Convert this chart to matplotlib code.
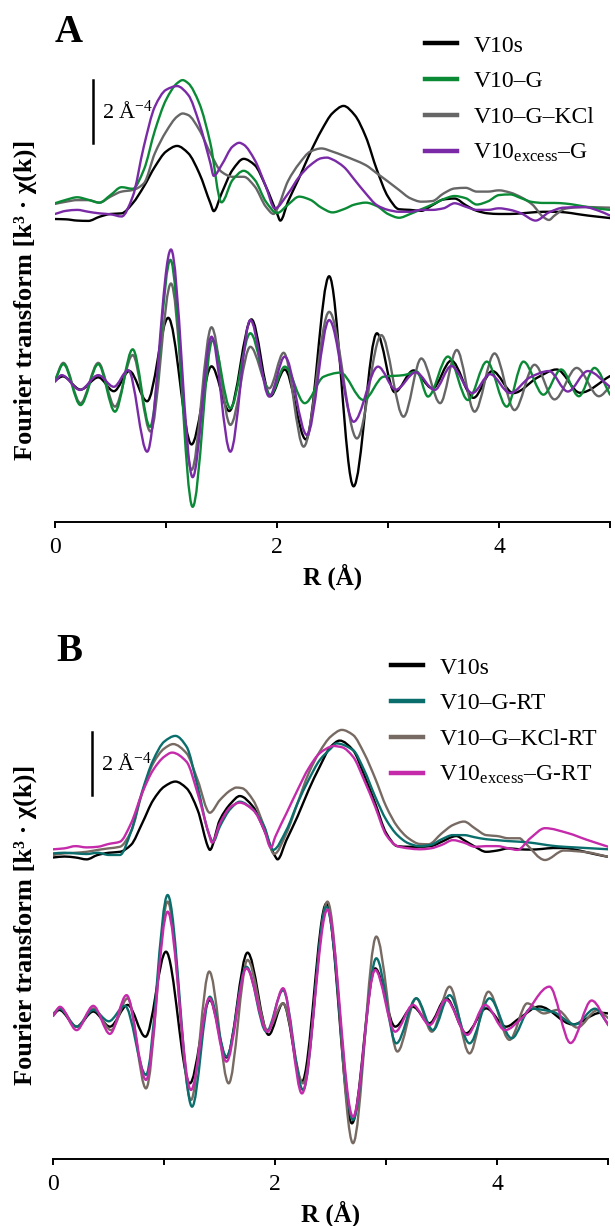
import numpy as np
import matplotlib
matplotlib.use("Agg")
import matplotlib.pyplot as plt
from matplotlib.path import Path
from matplotlib.patches import PathPatch
from matplotlib.lines import Line2D

plt.rcParams['font.family'] = ['Liberation Serif', 'DejaVu Serif']
plt.rcParams['mathtext.fontset'] = 'custom'
plt.rcParams['mathtext.rm'] = 'Liberation Serif'
plt.rcParams['mathtext.it'] = 'Liberation Serif:italic'
plt.rcParams['mathtext.bf'] = 'Liberation Serif:bold'

# ---------------- Panel A : magnitude (A^-4) ----------------
a_mag_black_r = [0, 0.1, 0.2, 0.3, 0.4, 0.5, 0.6, 0.7, 0.8, 0.9, 1.0, 1.1, 1.2, 1.3, 1.4, 1.43, 1.5, 1.6, 1.7,
                 1.8, 1.9, 2.0, 2.03, 2.1, 2.2, 2.3, 2.4, 2.5, 2.6, 2.7, 2.8, 2.9, 3.0, 3.1, 3.2, 3.3, 3.4, 3.5,
                 3.6, 3.7, 3.8, 3.9, 4.0, 4.1, 4.2, 4.3, 4.4, 4.5, 4.6, 4.7, 4.8, 4.9, 5.0]
a_mag_black = [0.19, 0.18, 0.14, 0.13, 0.26, 0.35, 0.37, 0.69, 1.22, 1.85, 2.33, 2.51, 2.28, 1.64, 0.69, 0.44,
               1.0, 1.75, 2.10, 1.90, 1.22, 0.37, 0.14, 0.75, 1.5, 2.3, 3.0, 3.55, 3.78, 3.49, 2.80, 1.75, 0.90,
               0.5, 0.48, 0.45, 0.63, 0.81, 0.84, 0.63, 0.45, 0.37, 0.35, 0.35, 0.37, 0.4, 0.42, 0.42, 0.4,
               0.35, 0.3, 0.26, 0.22]

a_mag_green_r = [0, 0.1, 0.2, 0.3, 0.4, 0.5, 0.6, 0.7, 0.8, 0.9, 1.0, 1.1, 1.15, 1.2, 1.3, 1.4, 1.5, 1.6, 1.7,
                 1.8, 1.9, 2.0, 2.1, 2.2, 2.3, 2.4, 2.5, 2.6, 2.7, 2.8, 2.9, 3.0, 3.1, 3.2, 3.3, 3.4, 3.5, 3.6,
                 3.7, 3.8, 3.9, 4.0, 4.1, 4.2, 4.3, 4.4, 4.5, 4.6, 4.7, 4.8, 4.9, 5.0]
a_mag_green = [0.69, 0.8, 0.88, 0.8, 0.71, 0.95, 1.2, 1.15, 1.75, 3.0, 3.97, 4.5, 4.6, 4.5, 3.86, 2.59, 0.72,
               1.43, 1.72, 1.43, 0.74, 0.38, 0.65, 0.9, 0.8, 0.55, 0.4, 0.5, 0.65, 0.71, 0.6, 0.35, 0.23, 0.35,
               0.5, 0.65, 0.82, 0.92, 0.85, 0.65, 0.75, 0.95, 0.97, 0.85, 0.73, 0.7, 0.7, 0.68, 0.63, 0.57,
               0.52, 0.48]

a_mag_gray_r = [0, 0.1, 0.2, 0.3, 0.4, 0.5, 0.6, 0.7, 0.8, 0.9, 1.0, 1.1, 1.15, 1.2, 1.3, 1.4, 1.5, 1.6, 1.7,
                1.8, 1.9, 1.97, 2.0, 2.1, 2.2, 2.3, 2.4, 2.5, 2.6, 2.7, 2.8, 2.9, 3.0, 3.1, 3.2, 3.3, 3.4, 3.5,
                3.6, 3.7, 3.8, 3.9, 4.0, 4.1, 4.2, 4.3, 4.4, 4.45, 4.5, 4.6, 4.7, 4.8, 4.9, 5.0]
a_mag_gray = [0.67, 0.74, 0.79, 0.79, 0.71, 0.9, 1.06, 1.11, 1.32, 2.28, 2.96, 3.44, 3.54, 3.49, 3.02, 2.28,
              1.69, 1.53, 1.53, 1.22, 0.58, 0.35, 0.5, 1.4, 1.95, 2.33, 2.43, 2.33, 2.2, 2.06, 1.9, 1.64, 1.38,
              1.11, 0.85, 0.74, 0.76, 1.0, 1.16, 1.18, 1.06, 1.06, 1.1, 1.03, 0.88, 0.65, 0.25, 0.16, 0.3,
              0.52, 0.56, 0.57, 0.56, 0.55]

a_mag_purple_r = [0, 0.1, 0.2, 0.3, 0.4, 0.5, 0.6, 0.7, 0.8, 0.9, 1.0, 1.1, 1.2, 1.3, 1.4, 1.43, 1.5, 1.6,
                  1.66, 1.7, 1.8, 1.9, 1.98, 2.1, 2.2, 2.3, 2.4, 2.45, 2.5, 2.6, 2.7, 2.8, 2.9, 3.0, 3.1, 3.2,
                  3.3, 3.4, 3.5, 3.6, 3.7, 3.8, 3.9, 4.0, 4.1, 4.2, 4.33, 4.45, 4.58, 4.77, 4.9, 5.0]
a_mag_purple = [0.35, 0.45, 0.48, 0.42, 0.37, 0.34, 0.27, 0.9, 2.49, 3.76, 4.29, 4.41, 4.13, 3.23, 1.96, 1.56,
                1.9, 2.49, 2.61, 2.55, 2.06, 1.22, 0.53, 1.0, 1.53, 1.9, 2.12, 2.14, 2.08, 1.85, 1.43, 1.0, 0.63,
                0.48, 0.42, 0.42, 0.48, 0.48, 0.53, 0.69, 0.58, 0.48, 0.48, 0.53, 0.48, 0.37, 0.14, 0.4, 0.55,
                0.57, 0.45, 0.3]

# ---------------- Panel A : imaginary part ----------------
a_im_black_r = [0, 0.07, 0.23, 0.39, 0.53, 0.67, 0.83, 1.02, 1.23, 1.41, 1.57, 1.77, 1.94, 2.07, 2.26, 2.47,
                2.69, 2.90, 3.06, 3.23, 3.40, 3.57, 3.77, 3.94, 4.13, 4.35, 4.52, 4.73, 5.0]
a_im_black = [0, 0.13, -0.29, 0.1, -0.34, 0.3, -0.66, 1.99, -2.03, 0.45, -0.97, 1.94, -0.5, 0.35, -1.87, 3.31,
              -3.36, 1.5, -0.37, 0.32, -0.25, 0.63, -0.55, 0.3, -0.4, 0.1, 0.35, -0.39, 0.14]

a_im_green_r = [0, 0.075, 0.23, 0.39, 0.54, 0.70, 0.856, 1.04, 1.24, 1.42, 1.58, 1.76, 1.94, 2.07, 2.25, 2.42,
                2.57, 2.78, 2.96, 3.14, 3.26, 3.36, 3.54, 3.72, 3.89, 4.07, 4.22, 4.40, 4.56, 4.72, 4.86, 5.0]
a_im_green = [0, 0.52, -0.78, 0.52, -0.99, 0.99, -1.47, 3.83, -4.01, 1.29, -0.88, 1.5, -0.46, 0.44, -0.72,
              0.12, 0.25, -0.62, 0.12, 0.17, 0.28, -0.51, 0.76, -0.62, 0.6, -0.83, 0.6, -0.45, 0.35, -0.5,
              0.4, -0.45]

a_im_gray_r = [0, 0.075, 0.23, 0.39, 0.54, 0.70, 0.86, 1.045, 1.23, 1.41, 1.58, 1.76, 1.93, 2.06, 2.24, 2.47,
               2.72, 2.94, 3.14, 3.30, 3.47, 3.62, 3.78, 3.96, 4.14, 4.32, 4.5, 4.7, 4.9, 5.0]
a_im_gray = [0, 0.56, -0.72, 0.56, -0.83, 0.81, -1.62, 3.08, -2.84, 1.69, -1.41, 1.07, -0.25, 0.88, -2.10,
             2.18, -1.84, 1.44, -1.15, 0.70, -0.72, 0.97, -0.99, 0.86, -0.94, 0.5, -0.6, 0.4, -0.5, -0.2]

a_im_purple_r = [0, 0.06, 0.225, 0.39, 0.53, 0.66, 0.83, 1.045, 1.24, 1.41, 1.58, 1.76, 1.93, 2.07, 2.27,
                 2.47, 2.69, 2.91, 3.07, 3.25, 3.42, 3.57, 3.76, 3.92, 4.1, 4.28, 4.45, 4.62, 4.8, 5.0]
a_im_purple = [-0.04, 0.17, -0.3, 0.17, -0.2, 0.33, -2.26, 4.16, -3.07, 1.39, -2.26, 1.92, -0.51, 0.76,
               -1.73, 1.92, -1.31, 0.44, -0.29, 0.26, -0.3, 0.46, -0.4, 0.2, -0.4, 0.1, 0.3, -0.35, 0.3, -0.2]

# ---------------- Panel B : magnitude ----------------
b_mag_black_r = [0, 0.1, 0.2, 0.3, 0.4, 0.5, 0.6, 0.7, 0.8, 0.9, 1.0, 1.1, 1.2, 1.3, 1.4, 1.41, 1.5, 1.6, 1.68,
                 1.8, 1.9, 2.0, 2.02, 2.1, 2.2, 2.3, 2.4, 2.5, 2.58, 2.7, 2.8, 2.9, 3.0, 3.1, 3.2, 3.3, 3.4,
                 3.5, 3.6, 3.63, 3.7, 3.8, 3.9, 4.0, 4.1, 4.2, 4.3, 4.4, 4.5, 4.6, 4.7, 4.8, 4.9, 5.0]
b_mag_black = [0.08, 0.11, 0.08, 0.02, 0.16, 0.23, 0.26, 0.48, 1.16, 1.9, 2.33, 2.49, 2.28, 1.59, 0.37, 0.32,
               1.27, 1.8, 2.03, 1.69, 0.95, 0.11, 0.02, 0.63, 1.38, 2.22, 2.96, 3.6, 3.79, 3.49, 2.7, 1.8,
               0.85, 0.44, 0.42, 0.42, 0.44, 0.58, 0.74, 0.76, 0.63, 0.42, 0.26, 0.3, 0.37, 0.34, 0.33, 0.35,
               0.38, 0.38, 0.33, 0.25, 0.17, 0.1]

b_mag_teal_r = [0, 0.1, 0.2, 0.3, 0.4, 0.5, 0.6, 0.7, 0.8, 0.9, 1.0, 1.1, 1.2, 1.3, 1.4, 1.44, 1.5, 1.6, 1.68,
                1.8, 1.9, 1.98, 2.1, 2.2, 2.3, 2.4, 2.5, 2.55, 2.7, 2.8, 2.9, 3.0, 3.1, 3.2, 3.3, 3.4, 3.5,
                3.6, 3.7, 3.8, 3.9, 4.0, 4.1, 4.2, 4.3, 4.4, 4.5, 4.6, 4.7, 4.8, 4.9, 5.0]
b_mag_teal = [0.21, 0.23, 0.21, 0.19, 0.23, 0.16, 0.16, 0.9, 2.17, 3.17, 3.76, 3.94, 3.6, 2.33, 0.85, 0.58,
              1.06, 1.64, 1.85, 1.59, 1.06, 0.32, 0.95, 1.8, 2.54, 3.17, 3.54, 3.7, 3.49, 2.86, 2.01, 1.27,
              0.79, 0.53, 0.44, 0.48, 0.66, 0.79, 0.79, 0.72, 0.66, 0.63, 0.6, 0.58, 0.55, 0.5, 0.45, 0.42,
              0.4, 0.38, 0.36, 0.34]

b_mag_brown_r = [0, 0.1, 0.2, 0.3, 0.4, 0.5, 0.6, 0.7, 0.8, 0.9, 1.0, 1.08, 1.2, 1.3, 1.41, 1.5, 1.6, 1.65,
                 1.7, 1.8, 1.9, 1.99, 2.1, 2.2, 2.3, 2.4, 2.5, 2.6, 2.7, 2.8, 2.9, 3.0, 3.1, 3.2, 3.3, 3.38,
                 3.5, 3.6, 3.7, 3.8, 3.9, 4.0, 4.1, 4.2, 4.25, 4.43, 4.6, 4.8, 5.0]
b_mag_brown = [0.16, 0.21, 0.23, 0.26, 0.32, 0.37, 0.42, 0.9, 2.12, 3.07, 3.54, 3.68, 3.39, 2.54, 1.5, 1.9,
               2.22, 2.3, 2.28, 1.9, 1.06, 0.19, 0.85, 1.8, 2.75, 3.44, 3.92, 4.13, 3.97, 3.39, 2.59, 1.69,
               1.06, 0.69, 0.51, 0.5, 0.85, 1.11, 1.22, 1.0, 0.79, 0.76, 0.69, 0.69, 0.54, 0.0, 0.3, 0.25, 0.1]

b_mag_magenta_r = [0, 0.1, 0.2, 0.3, 0.4, 0.5, 0.6, 0.7, 0.8, 0.9, 1.0, 1.07, 1.2, 1.3, 1.4, 1.43, 1.5, 1.6,
                   1.68, 1.8, 1.9, 1.96, 2.0, 2.1, 2.2, 2.3, 2.4, 2.5, 2.52, 2.6, 2.7, 2.8, 2.9, 3.0, 3.1, 3.2,
                   3.3, 3.4, 3.5, 3.6, 3.7, 3.8, 3.9, 4.0, 4.1, 4.18, 4.3, 4.43, 4.64, 4.8, 5.0]
b_mag_magenta = [0.34, 0.37, 0.44, 0.4, 0.42, 0.51, 0.58, 1.16, 2.12, 2.86, 3.28, 3.41, 3.12, 2.12, 0.85, 0.55,
                 1.16, 1.69, 1.82, 1.59, 0.95, 0.39, 0.74, 1.48, 2.22, 2.91, 3.39, 3.6, 3.62, 3.58, 3.28, 2.54,
                 1.69, 0.79, 0.44, 0.37, 0.34, 0.37, 0.48, 0.63, 0.55, 0.42, 0.44, 0.44, 0.37, 0.32, 0.7, 1.01,
                 0.85, 0.65, 0.42]

# ---------------- Panel B : imaginary part ----------------
b_im_black_r = [0, 0.054, 0.21, 0.36, 0.51, 0.67, 0.83, 1.015, 1.23, 1.41, 1.56, 1.75, 1.94, 2.07, 2.24,
                2.46, 2.69, 2.9, 3.08, 3.24, 3.39, 3.54, 3.72, 3.90, 4.08, 4.2, 4.38, 4.68, 4.93, 5.0]
b_im_black = [0, 0.16, -0.37, 0.11, -0.37, 0.32, -0.69, 2.01, -2.17, 0.48, -1.35, 1.98, -0.63, 0.37, -2.12,
              3.54, -3.44, 1.48, -0.37, 0.26, -0.26, 0.53, -0.58, 0.21, -0.37, -0.1, 0.27, -0.3, 0.07, 0.05]

b_im_teal_r = [0, 0.054, 0.21, 0.36, 0.5, 0.645, 0.835, 1.03, 1.25, 1.41, 1.56, 1.74, 1.92, 2.07, 2.25, 2.46,
               2.70, 2.91, 3.09, 3.27, 3.42, 3.57, 3.75, 3.93, 4.13, 4.3, 4.5, 4.7, 4.88, 5.0]
b_im_teal = [0, 0.21, -0.37, 0.16, -0.2, 0.29, -1.9, 3.81, -2.91, 0.58, -1.32, 1.53, -0.53, 0.79, -2.38, 3.44,
             -3.33, 1.8, -0.9, 0.53, -0.48, 0.63, -0.9, 0.53, -0.74, 0.2, 0.1, -0.3, 0.2, -0.3]

b_im_brown_r = [0, 0.06, 0.21, 0.36, 0.52, 0.67, 0.835, 1.03, 1.24, 1.405, 1.58, 1.75, 1.93, 2.07, 2.25, 2.47,
                2.70, 2.91, 3.1, 3.27, 3.41, 3.57, 3.75, 3.92, 4.11, 4.27, 4.42, 4.54, 4.72, 4.9, 5.0]
b_im_brown = [0.05, 0.21, -0.37, 0.21, -0.48, 0.53, -2.33, 3.6, -2.7, 1.38, -2.17, 1.75, -0.48, 0.37, -2.17,
              3.6, -4.07, 2.49, -1.16, 0.53, -0.53, 0.9, -1.22, 0.74, -0.79, 0.37, 0.05, 0.16, -0.4, 0.15, -0.1]

b_im_magenta_r = [0, 0.06, 0.21, 0.36, 0.51, 0.66, 0.835, 1.03, 1.24, 1.405, 1.56, 1.74, 1.93, 2.07, 2.24,
                  2.47, 2.70, 2.9, 3.08, 3.24, 3.39, 3.54, 3.73, 3.89, 4.07, 4.22, 4.47, 4.66, 4.85, 5.0]
b_im_magenta = [-0.03, 0.26, -0.48, 0.29, -0.6, 0.63, -2.06, 3.28, -2.38, 0.53, -1.48, 1.48, -0.53, 0.85,
                -2.49, 3.35, -3.23, 1.43, -0.53, 0.32, -0.32, 0.48, -0.63, 0.32, -0.48, -0.1, 0.9, -0.89, 0.46,
                -0.33]

labels_a = ['V10s', 'V10–G', 'V10–G–KCl', r'V10$_{\mathrm{excess}}$–G']
labels_b = ['V10s', 'V10–G-RT', 'V10–G–KCl-RT', r'V10$_{\mathrm{excess}}$–G-RT']
colors_a = ['#000000', '#0b8a36', '#666666', '#7a2aa6']
colors_b = ['#000000', '#0a6e6c', '#776a62', '#c42aaa']

W, H = 615, 1226
fig = plt.figure(figsize=(W / 100, H / 100), dpi=100)
PX = 31.5  # pixels per A^-4


def smooth_line(ax, x, y, color):
    # smoothed line through the points (monotone cubic Bezier segments, like a "smoothed line" chart)
    x = np.asarray(x, float)
    y = np.asarray(y, float)
    h = np.diff(x)
    d = np.diff(y) / h
    m = np.zeros(len(x))
    m[0], m[-1] = d[0], d[-1]
    for i in range(1, len(x) - 1):
        if d[i - 1] * d[i] > 0:
            w1 = 2 * h[i] + h[i - 1]
            w2 = h[i] + 2 * h[i - 1]
            m[i] = (w1 + w2) / (w1 / d[i - 1] + w2 / d[i])
    verts = [(x[0], y[0])]
    codes = [Path.MOVETO]
    for i in range(len(x) - 1):
        verts += [(x[i] + h[i] / 3, y[i] + m[i] * h[i] / 3),
                  (x[i + 1] - h[i] / 3, y[i + 1] - m[i + 1] * h[i] / 3),
                  (x[i + 1], y[i + 1])]
        codes += [Path.CURVE4] * 3
    ax.add_patch(PathPatch(Path(verts, codes), facecolor='none', edgecolor=color, lw=1.7,
                           capstyle='round', joinstyle='round'))


def panel(left, bottom, top, mag_zero, im_zero, mags, ims, colors, labels, letter, leg_x, leg_y,
          bar_x, bar_top, ylab_y):
    ax = fig.add_axes([left / W, 1 - bottom / H, 555 / W, (bottom - top) / H])
    ax.set_xlim(0, 5)
    ax.set_ylim(0, (bottom - top) / PX)
    m_off = (bottom - mag_zero) / PX
    i_off = (bottom - im_zero) / PX
    for k in [0, 2, 1, 3]:
        r, v = mags[k]
        smooth_line(ax, r, np.array(v) + m_off, colors[k])
        r, v = ims[k]
        smooth_line(ax, r, np.array(v) + i_off, colors[k])
    for s in ['left', 'right', 'top']:
        ax.spines[s].set_visible(False)
    ax.spines['bottom'].set_linewidth(1.4)
    ax.set_yticks([])
    ax.set_xticks([0, 1, 2, 3, 4, 5])
    ax.set_xticklabels(['0', '', '2', '', '4', ''])
    ax.tick_params(axis='x', direction='out', length=4, width=1.4, labelsize=17, pad=7)
    ax.set_xlabel('R (Å)', fontsize=18, fontweight='bold', labelpad=4)

    # scale bar 2 A^-4
    yb = (bottom - bar_top) / PX
    ax.plot([bar_x, bar_x], [yb - 2, yb], color='black', lw=1.8)
    ax.text(bar_x + 0.08, yb - 1.0, r'2 Å$^{\mathrm{-4}}$', fontsize=16, va='center', ha='left')

    handles = [Line2D([], [], color=c, lw=3.2) for c in colors]
    ax.legend(handles, labels, loc='upper left', bbox_to_anchor=(leg_x / W, 1 - leg_y / H),
              bbox_transform=fig.transFigure, frameon=False, fontsize=17, handlelength=1.35,
              handletextpad=0.7, labelspacing=0.6, borderpad=0, borderaxespad=0)

    fig.text(69 / W, 1 - (top + 22) / H, letter, fontsize=28, fontweight='bold', ha='center', va='center')
    fig.text(25 / W, 1 - ylab_y / H, 'Fourier transform [k³ · χ(k)]', rotation=90, fontsize=19,
             fontweight='bold', ha='center', va='center')
    return ax


panel(55, 522, 10, 225, 380.5,
      [(a_mag_black_r, a_mag_black), (a_mag_green_r, a_mag_green), (a_mag_gray_r, a_mag_gray),
       (a_mag_purple_r, a_mag_purple)],
      [(a_im_black_r, a_im_black), (a_im_green_r, a_im_green), (a_im_gray_r, a_im_gray),
       (a_im_purple_r, a_im_purple)],
      colors_a, labels_a, 'A', 425, 35, 0.34, 80, 300)

panel(53.3, 1159, 630, 860, 1015,
      [(b_mag_black_r, b_mag_black), (b_mag_teal_r, b_mag_teal), (b_mag_brown_r, b_mag_brown),
       (b_mag_magenta_r, b_mag_magenta)],
      [(b_im_black_r, b_im_black), (b_im_teal_r, b_im_teal), (b_im_brown_r, b_im_brown),
       (b_im_magenta_r, b_im_magenta)],
      colors_b, labels_b, 'B', 391, 657, 0.35, 732, 925)

plt.savefig('out.png', dpi=100)
